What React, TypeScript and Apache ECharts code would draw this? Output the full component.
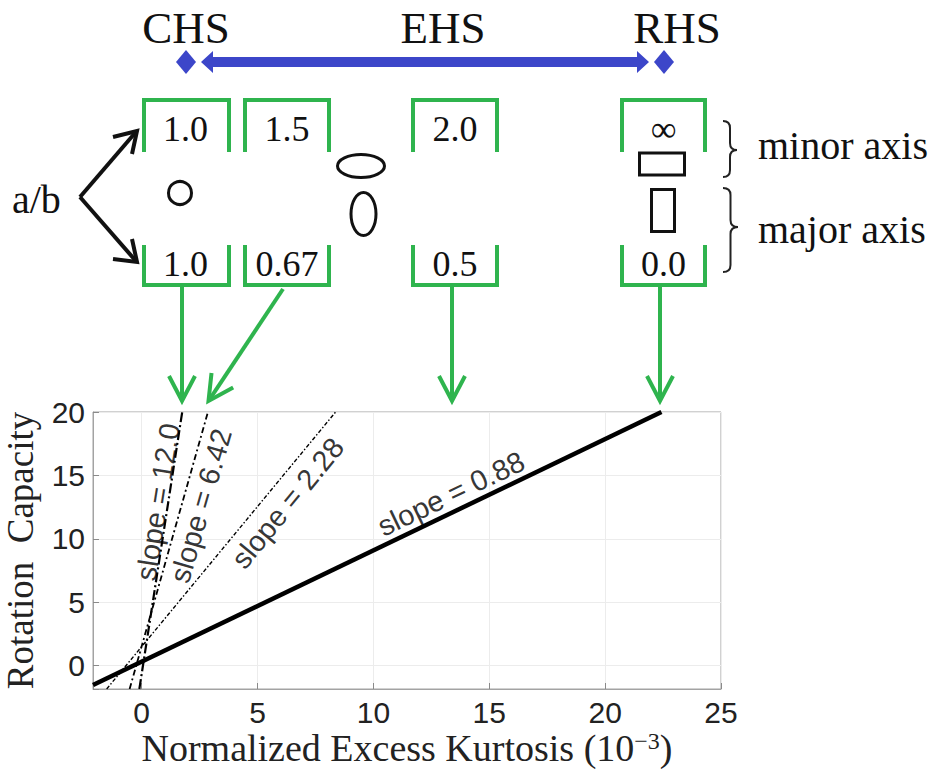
import React, { useEffect, useRef } from 'react';
import * as echarts from 'echarts';

// ---- plot data ----
const slopeLabels = ['slope = 12.0', 'slope = 6.42', 'slope = 2.28', 'slope = 0.88'];
const lineStartX = [-0.1, -0.52, -1.51, -2.1];
const lineStartY = [-1.85, -1.85, -1.85, -1.54];
const lineEndX = [1.75, 2.86, 8.37, 22.43];
const lineEndY = [20, 20, 20, 20];
const labelX = [0.7, 2.55, 6.3, 13.35];
const labelY = [12.9, 12.6, 12.82, 13.55];
const labelAngle = [81, 74, 50.5, 25.6];

// ---- diagram texts ----
const classNames = ['CHS', 'EHS', 'RHS'];
const topRatios = ['1.0', '1.5', '2.0', '∞'];
const bottomRatios = ['1.0', '0.67', '0.5', '0.0'];
const braceLabels = ['minor axis', 'major axis'];

const GREEN = '#2fb44e';
const BLUE = '#3c46c9';
const SERIF = '"Liberation Serif", "Times New Roman", serif';
const SANS = '"Liberation Sans", Arial, sans-serif';

const lineStyles = [
  { width: 2.2, type: [10, 3, 2, 3] },
  { width: 1.8, type: [6, 3, 2, 3] },
  { width: 1.4, type: [4, 2, 1.5, 2] },
  { width: 4.5, type: 'solid' },
];

function txt(text: string, x: number, y: number, size: number, align = 'center', fill = '#111') {
  return {
    type: 'text',
    x,
    y,
    style: {
      text,
      fill,
      fontSize: size,
      fontFamily: SERIF,
      align,
      verticalAlign: 'middle',
      textAlign: align,
      textVerticalAlign: 'middle',
    },
  };
}

function poly(points: number[][], stroke: string, lineWidth: number) {
  return {
    type: 'polyline',
    shape: { points },
    style: { stroke, lineWidth, fill: 'none', lineJoin: 'miter' },
  };
}

function brace(xl: number, xt: number, yt: number, ym: number, yb: number) {
  const xm = (xl + xt) / 2;
  const r = 7;
  const st = { stroke: '#222', lineWidth: 2, fill: 'none' };
  return [
    { type: 'bezierCurve', shape: { x1: xl, y1: yt, cpx1: xm, cpy1: yt, x2: xm, y2: yt + r }, style: st },
    { type: 'line', shape: { x1: xm, y1: yt + r, x2: xm, y2: ym - r }, style: st },
    { type: 'bezierCurve', shape: { x1: xm, y1: ym - r, cpx1: xm, cpy1: ym, x2: xt, y2: ym }, style: st },
    { type: 'bezierCurve', shape: { x1: xt, y1: ym, cpx1: xm, cpy1: ym, x2: xm, y2: ym + r }, style: st },
    { type: 'line', shape: { x1: xm, y1: ym + r, x2: xm, y2: yb - r }, style: st },
    { type: 'bezierCurve', shape: { x1: xm, y1: yb - r, cpx1: xm, cpy1: yb, x2: xl, y2: yb }, style: st },
  ];
}

function greenArrow(x1: number, y1: number, x2: number, y2: number) {
  const dx = x2 - x1;
  const dy = y2 - y1;
  const len = Math.hypot(dx, dy);
  const ux = dx / len;
  const uy = dy / len;
  const bx = x2 - ux * 25;
  const by = y2 - uy * 25;
  const px = -uy * 13;
  const py = ux * 13;
  return [
    { type: 'line', shape: { x1, y1, x2: x2 - ux * 2, y2: y2 - uy * 2 }, style: { stroke: GREEN, lineWidth: 4 } },
    poly([[bx + px, by + py], [x2, y2], [bx - px, by - py]], GREEN, 4),
  ];
}

function buildGraphic() {
  const els: any[] = [];
  const classX = [186, 443, 677];
  classNames.forEach((c, i) => els.push(txt(c, classX[i], 28, 45)));
  els.push({
    type: 'polygon',
    shape: {
      points: [
        [201, 62], [213, 51], [213, 57], [637, 57], [637, 51], [649, 62],
        [637, 73], [637, 67], [213, 67], [213, 73],
      ],
    },
    style: { fill: BLUE },
  });
  [186, 664].forEach((cx) =>
    els.push({
      type: 'polygon',
      shape: { points: [[cx, 50], [cx + 10, 62], [cx, 74], [cx - 10, 62]] },
      style: { fill: BLUE },
    })
  );
  const bx = [[144, 229], [245, 329], [413, 497], [622, 705]];
  bx.forEach(([a, b], i) => {
    els.push(poly([[a, 152], [a, 100], [b, 100], [b, 152]], GREEN, 4));
    els.push(poly([[a, 245], [a, 285], [b, 285], [b, 245]], GREEN, 4));
    const cx = (a + b) / 2 + (i === 0 ? -1 : 0);
    els.push(txt(topRatios[i], cx, 129, 36));
    els.push(txt(bottomRatios[i], cx, 264, 36));
  });
  const sh = { stroke: '#111', lineWidth: 3, fill: 'none' };
  els.push({ type: 'circle', shape: { cx: 180, cy: 193, r: 11.5 }, style: sh });
  els.push({ type: 'ellipse', shape: { cx: 361, cy: 166, rx: 23.5, ry: 11.5 }, style: sh });
  els.push({ type: 'ellipse', shape: { cx: 363.5, cy: 214, rx: 12.5, ry: 21.5 }, style: sh });
  els.push({ type: 'rect', shape: { x: 639.5, y: 153, width: 45, height: 22 }, style: sh });
  els.push({ type: 'rect', shape: { x: 651.5, y: 189.5, width: 23, height: 42 }, style: sh });
  els.push(txt('a/b', 12, 199, 40, 'left'));
  els.push({ type: 'line', shape: { x1: 80, y1: 197, x2: 135, y2: 133 }, style: { stroke: '#111', lineWidth: 4 } });
  els.push({ type: 'line', shape: { x1: 80, y1: 197, x2: 135, y2: 260 }, style: { stroke: '#111', lineWidth: 4 } });
  els.push(poly([[113, 137], [137, 131], [132, 154]], '#111', 4));
  els.push(poly([[113, 259], [137, 262], [132, 239]], '#111', 4));
  els.push(...brace(723, 737, 121, 150, 177));
  els.push(...brace(723, 738, 188, 227, 272));
  els.push(txt(braceLabels[0], 758, 145, 40, 'left'));
  els.push(txt(braceLabels[1], 758, 229, 40, 'left'));
  els.push(...greenArrow(182, 285, 182, 401));
  els.push(...greenArrow(283, 289, 208.5, 401));
  els.push(...greenArrow(452, 285, 452, 401));
  els.push(...greenArrow(660, 285, 660, 401));
  return els;
}

export default function App() {
  const ref = useRef<HTMLDivElement>(null);
  useEffect(() => {
    const chart = echarts.init(ref.current!, null, { renderer: 'svg' });
    const lineSeries = slopeLabels.map((name, i) => ({
      type: 'line',
      name,
      symbol: 'none',
      data: [
        [lineStartX[i], lineStartY[i]],
        [lineEndX[i], lineEndY[i]],
      ],
      lineStyle: { color: '#000', width: lineStyles[i].width, type: lineStyles[i].type as any },
      z: 3,
    }));
    const labelSeries = {
      type: 'scatter',
      symbolSize: 0,
      silent: true,
      z: 5,
      data: slopeLabels.map((t, i) => ({
        value: [labelX[i], labelY[i]],
        label: {
          show: true,
          formatter: t,
          rotate: labelAngle[i],
          position: 'inside',
          color: '#000',
          fontSize: 29,
          fontFamily: SANS,
        },
      })),
    };
    const axisCommon = {
      type: 'value',
      minInterval: 5,
      maxInterval: 5,
      axisLine: { show: true, onZero: false, lineStyle: { color: '#a3a3a3', width: 1 } },
      axisTick: { show: true, inside: true, length: 6, lineStyle: { color: '#8a8a8a' } },
      splitLine: { show: true, lineStyle: { color: '#ececec', width: 1 } },
    };
    chart.setOption({
      animation: false,
      backgroundColor: '#fff',
      grid: {
        left: 93,
        top: 412,
        width: 628,
        height: 277,
        show: true,
        borderColor: '#a3a3a3',
        borderWidth: 1,
        containLabel: false,
        outerBoundsMode: 'none',
      },
      xAxis: {
        ...axisCommon,
        min: -2.1,
        max: 25,
        axisLabel: {
          color: '#222',
          fontSize: 30,
          fontFamily: SANS,
          margin: 8,
          formatter: (v: number) => (v < -1 ? '' : String(v)),
        },
        name: 'Normalized Excess Kurtosis (10{s|−3})',
        nameLocation: 'middle',
        nameGap: 40,
        nameTextStyle: {
          color: '#222',
          fontSize: 38,
          fontFamily: SERIF,
          lineHeight: 38,
          rich: {
            s: { fontSize: 24, fontFamily: SERIF, color: '#222', verticalAlign: 'top', lineHeight: 24 },
          },
        },
      },
      yAxis: {
        ...axisCommon,
        min: -1.85,
        max: 20,
        axisLabel: {
          color: '#222',
          fontSize: 30,
          fontFamily: SANS,
          margin: 8,
          formatter: (v: number) => (v < -1 ? '' : String(v)),
        },
        name: 'Rotation  Capacity',
        nameLocation: 'middle',
        nameGap: 54,
        nameTextStyle: { color: '#222', fontSize: 37, fontFamily: SERIF, lineHeight: 37 },
      },
      series: [...lineSeries, labelSeries],
      graphic: { elements: buildGraphic() },
    });
    return () => chart.dispose();
  }, []);
  return (
    <div
      ref={ref}
      style={{ position: 'fixed', left: 0, top: 0, width: 940, height: 769, background: '#fff' }}
    />
  );
}
